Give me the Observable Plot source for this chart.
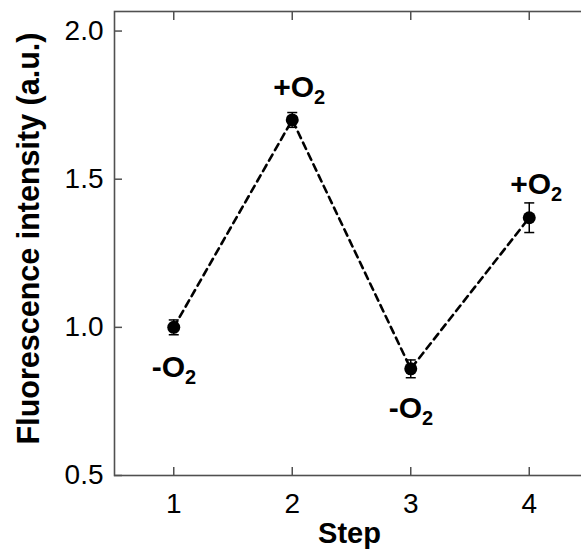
<!DOCTYPE html>
<html><head><meta charset="utf-8">
<script src="https://cdn.jsdelivr.net/npm/d3@7"></script>
<script src="https://cdn.jsdelivr.net/npm/@observablehq/plot@0.6"></script>
<style>body{margin:0;background:#fff}</style>
</head><body><div id="chart"></div>
<script>
const steps = [1, 2, 3, 4];
const intensity = [1.00, 1.70, 0.86, 1.37];
const errors = [0.025, 0.025, 0.03, 0.05];
const conditions = ["-", "+", "-", "+"];
const xTicks = [1, 2, 3, 4];
const yTicks = [0.5, 1.0, 1.5, 2.0];
const xLabel = "Step";
const yLabel = "Fluorescence intensity (a.u.)";

const data = steps.map((s, i) => ({
  step: s, value: intensity[i], lo: intensity[i] - errors[i], hi: intensity[i] + errors[i], cond: conditions[i]
}));

const capSymbol = {draw(ctx, size) { const w = Math.sqrt(size / Math.PI); ctx.moveTo(-w, 0); ctx.lineTo(w, 0); }};
const frameColor = "#505050";
const font = "'Liberation Sans', Arial, Helvetica, sans-serif";

const chart = Plot.plot({
  width: 581, height: 558,
  marginLeft: 114, marginRight: -7, marginTop: 11, marginBottom: 83,
  style: {fontFamily: font, background: "white", color: "black", overflow: "hidden"},
  x: {domain: [0.5, 4.5]},
  y: {domain: [0.5, 2.066]},
  marks: [
    Plot.frame({stroke: frameColor, strokeWidth: 1.6}),
    Plot.axisX({ticks: xTicks, tickSize: -8, tickPadding: 26, fontSize: 28, stroke: frameColor, strokeWidth: 1.5, label: null, tickFormat: d => String(d)}),
    Plot.axisX({anchor: "top", ticks: xTicks, tickSize: -8, tickFormat: () => "", label: null, stroke: frameColor, strokeWidth: 1.5}),
    Plot.axisY({ticks: yTicks, tickSize: -8, tickPadding: 19, fontSize: 28, tickFormat: d3.format(".1f"), label: null, stroke: frameColor, strokeWidth: 1.5}),
    Plot.axisY({anchor: "right", ticks: yTicks, tickSize: -8, tickFormat: () => "", label: null, stroke: frameColor, strokeWidth: 1.5}),
    Plot.line(data, {x: "step", y: "value", stroke: "black", strokeWidth: 2.6, strokeDasharray: "7,5"}),
    Plot.ruleX(data, {x: "step", y1: "lo", y2: "hi", stroke: "black", strokeWidth: 1.5}),
    Plot.dot(data, {x: "step", y: "lo", symbol: capSymbol, r: 5, stroke: "black", strokeWidth: 1.5}),
    Plot.dot(data, {x: "step", y: "hi", symbol: capSymbol, r: 5, stroke: "black", strokeWidth: 1.5}),
    Plot.dot(data, {x: "step", y: "value", r: 6.5, fill: "black"}),
    Plot.text(data.filter(d => d.cond === "+"), {x: "step", y: "value", text: d => d.cond + "O2", textAnchor: "start", dx: -19, dy: -33, fontSize: 30, fontWeight: "bold"}),
    Plot.text(data.filter(d => d.cond === "-"), {x: "step", y: "value", text: d => d.cond + "O2", textAnchor: "start", dx: -22, dy: 40, fontSize: 30, fontWeight: "bold"}),
    Plot.text([xLabel], {frameAnchor: "bottom", lineAnchor: "bottom", dy: 67, dx: -2, fontSize: 29, fontWeight: "bold"}),
    Plot.text([yLabel], {frameAnchor: "left", textAnchor: "middle", lineAnchor: "middle", rotate: -90, dx: -85, dy: -5, fontSize: 30.5, fontWeight: "bold"})
  ]
});

chart.querySelectorAll("text").forEach(t => {
  const s = t.textContent;
  if (/O2$/.test(s) && t.children.length === 0) {
    t.textContent = s.slice(0, -1);
    const ts = document.createElementNS("http://www.w3.org/2000/svg", "tspan");
    ts.setAttribute("font-size", "20");
    ts.setAttribute("dy", "7");
    ts.textContent = "2";
    t.appendChild(ts);
  }
});

document.getElementById("chart").appendChild(chart);
</script>
</body></html>
